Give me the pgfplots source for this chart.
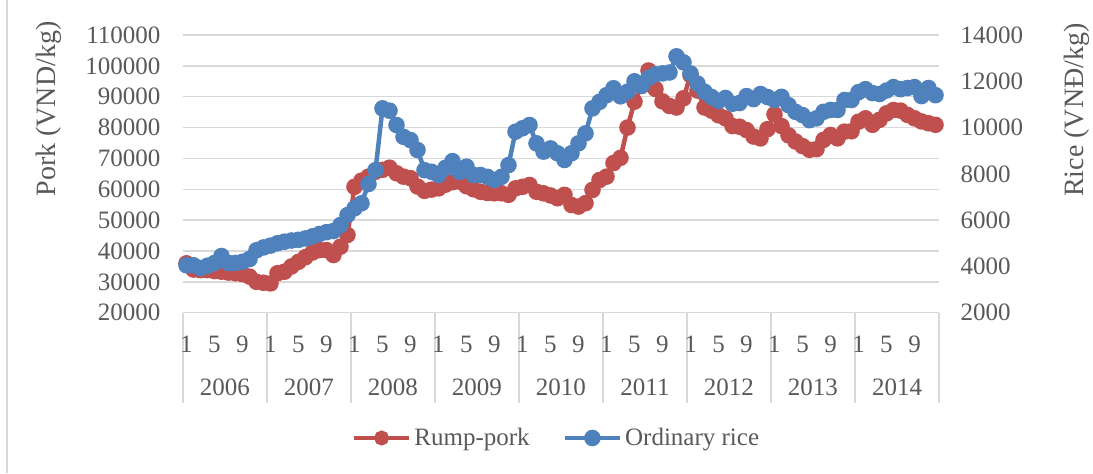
\documentclass[border=0pt]{standalone}
\usepackage{fontspec}
\setmainfont{Liberation Serif}
\usepackage{pgfplots}
\pgfplotsset{compat=1.18}
\usepackage{pgfplotstable}
\definecolor{txt}{HTML}{595959}
\definecolor{gridc}{HTML}{D9D9D9}
\definecolor{pork}{HTML}{C0504D}
\definecolor{rice}{HTML}{4F81BD}

% Rump-pork price (VND/kg), monthly Jan 2006 - Dec 2014
\pgfplotstableread{
v
36000
34000
33800
33800
33500
33300
33000
32800
32500
31700
30000
29700
29500
32800
33300
35000
36500
38000
39500
40300
40300
38700
41400
45200
60800
62800
64100
65700
66300
67000
65200
64100
63600
60900
59500
59900
60300
61500
62300
62500
61000
60000
59200
58800
58700
58700
58200
60300
60800
61400
59200
58700
58000
57100
58200
54900
54400
55500
59800
63000
64100
68500
70200
80000
88400
93500
98500
92500
88500
87000
86500
89500
97000
92000
86500
85500
84000
83000
80500
80300
79200
77100
76500
79500
84300
80500
77500
75500
74000
72800
73000
76000
77600
76500
78700
78800
81900
83000
80900
82500
84600
85700
85500
84100
83000
82000
81400
80900
}\porkdata

% Ordinary rice price (VND/kg), monthly Jan 2006 - Dec 2014
\pgfplotstableread{
v
4050
4050
3930
4030
4150
4450
4150
4150
4200
4320
4700
4820
4900
5000
5070
5120
5150
5210
5300
5400
5480
5530
5790
6220
6510
6730
7560
8160
10830
10730
10110
9600
9460
9030
8160
8090
7950
8260
8550
8090
8310
7950
7950
7870
7730
7870
8380
9820
9970
10110
9320
8960
9100
8890
8600
8890
9320
9750
10830
11110
11400
11700
11350
11550
12000
11800
12150
12300
12340
12380
13080
12820
12340
11900
11550
11320
11150
11280
11030
11060
11360
11230
11450
11320
11190
11330
10970
10680
10540
10320
10400
10680
10760
10760
11190
11190
11530
11660
11490
11450
11600
11750
11660
11710
11750
11360
11710
11400
}\ricedata

\begin{document}
\begin{tikzpicture}[font=\fontsize{12.5}{15}\selectfont]
\useasboundingbox (-91.5pt,-80.15pt) rectangle (455pt,156.35pt);
\draw[gridc, line width=0.75pt] (-88pt,-80.15pt) -- (-88pt,156.35pt);
\begin{axis}[
  at={(0pt,0pt)}, anchor=south west,
  width=378pt, height=138.85pt, scale only axis,
  xmin=0.5, xmax=108.5, ymin=20000, ymax=110000,
  ytick={20000,30000,...,110000},
  yticklabel={\pgfmathprintnumber[fixed,precision=0,1000 sep={},assume math mode=true]{\tick}},
  axis line style={draw=none},
  ymajorgrids, grid style={gridc, line width=0.75pt},
  major tick length=0pt,
  xtick={1,5,...,105},
  xticklabels={1,5,9,1,5,9,1,5,9,1,5,9,1,5,9,1,5,9,1,5,9,1,5,9,1,5,9},
  minor xtick={0.5,12.5,...,108.5},
  minor tick length=45pt,
  tick align=outside,
  xtick pos=bottom, ytick pos=left,
  minor tick style={gridc, line width=0.75pt},
  xticklabel style={anchor=center, yshift=-16pt, text=txt},
  extra x ticks={6.5,18.5,...,102.5},
  extra x tick labels={2006,2007,2008,2009,2010,2011,2012,2013,2014},
  extra x tick style={xticklabel style={yshift=-21.5pt}, major tick length=0pt},
  yticklabel style={text=txt, xshift=-7.8pt},
  scaled y ticks=false,
  clip=false,
]
\addplot[color=pork, line width=2.25pt, mark=*, mark size=3pt, mark options={draw=none, fill=pork}]
  table[x expr=\coordindex+1, y=v] {\porkdata};
\end{axis}
\begin{axis}[
  at={(0pt,0pt)}, anchor=south west,
  width=378pt, height=138.85pt, scale only axis,
  xmin=0.5, xmax=108.5, ymin=2000, ymax=14000,
  ytick={2000,4000,...,14000},
  yticklabel={\pgfmathprintnumber[fixed,precision=0,1000 sep={},assume math mode=true]{\tick}},
  axis y line*=right, hide x axis,
  axis line style={draw=none},
  major tick length=0pt,
  yticklabel style={text=txt, xshift=7.3pt},
  scaled y ticks=false,
  clip=false,
  legend columns=2,
  legend style={at={(0.4947,-0.4512)}, anchor=center, draw=none, fill=none,
    text=txt, inner sep=0pt, nodes={inner sep=1.5pt},
    /tikz/every even column/.append style={column sep=15pt}},
  legend image code/.code={\draw[mark repeat=2,mark phase=2,#1] plot coordinates {(0pt,0pt) (13.75pt,0pt) (27.5pt,0pt)};},
]
\addlegendimage{color=pork, line width=2.25pt, mark=*, mark size=2.6pt, mark options={draw=none, fill=pork}}
\addlegendentry{Rump-pork}
\addplot[color=rice, line width=2.25pt, mark=*, mark size=3pt, mark options={draw=none, fill=rice}]
  table[x expr=\coordindex+1, y=v] {\ricedata};
\addlegendentry{Ordinary rice}
\end{axis}
\node[rotate=90, text=txt, font=\fontsize{14}{16}\selectfont] at (-67pt,101.85pt) {Pork (VND/kg)};
\node[rotate=90, text=txt, font=\fontsize{14}{16}\selectfont] at (447pt,101.35pt) {Rice (VNĐ/kg)};
\end{tikzpicture}
\end{document}
